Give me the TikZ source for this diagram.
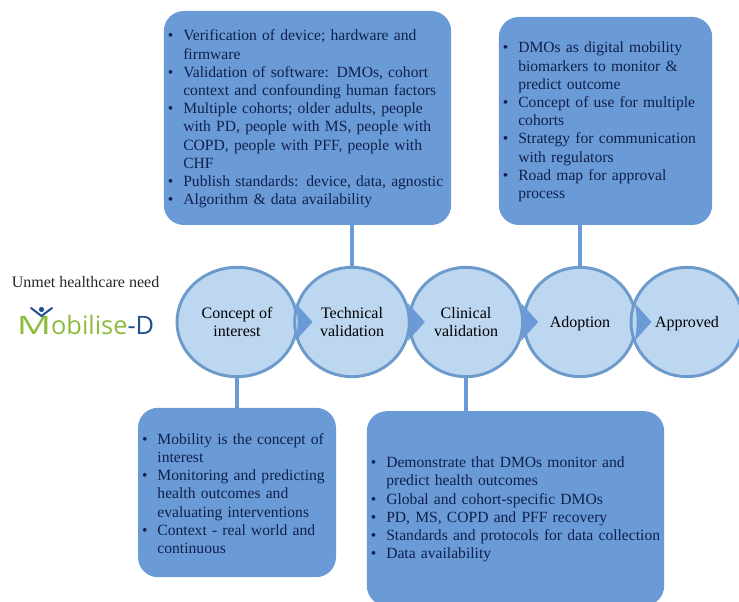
\documentclass[tikz,border=0pt]{standalone}
\usepackage{fontspec}
\setmainfont{Liberation Serif}
\newfontfamily\logofont{Open Sans}
\usepackage{graphicx}
\usepackage{xcolor}
\usetikzlibrary{shapes.geometric}
\usetikzlibrary{calc}
\definecolor{myBlue}{HTML}{6A9BD6}
\definecolor{myLight}{HTML}{BDD7F1}
\definecolor{myEdge}{HTML}{6C9BCB}
\definecolor{myInk}{HTML}{10204C}
\definecolor{myGreen}{HTML}{8CBB3E}
\definecolor{myNavy}{HTML}{1F4F8F}
\newenvironment{boxlist}{%
  \begin{list}{\textbullet}{%
    \setlength{\leftmargin}{14.6pt}%
    \setlength{\labelsep}{7.5pt}%
    \setlength{\labelwidth}{7pt}%
    \setlength{\itemsep}{0pt}%
    \setlength{\parsep}{0pt}%
    \setlength{\topsep}{0pt}%
    \setlength{\partopsep}{0pt}}%
    \raggedright}{\end{list}\vspace{4pt}}
\tikzset{
  stage/.style={ellipse, draw=myEdge, line width=2.2pt, fill=myLight, align=center,
    minimum height=82pt, inner sep=0pt, font=\fontsize{12}{13.5}\selectfont},
  infobox/.style={rectangle, rounded corners=15pt, fill=myBlue, inner sep=0pt, text=myInk,
    font=\fontsize{11.7}{13.65}\selectfont},
  link/.style={myBlue, line width=3pt},
}

\begin{document}
\begin{tikzpicture}[x=0.75pt,y=-0.75pt]
\useasboundingbox (0,0) rectangle (739,602);
\clip (0,0) rectangle (739,602);

%%%%%%%%%%%%%%%%%%%%%%%%%%%%%%%%%%%%%%%%%%%%%%%%%%%%%%%%%%%%%% Setup
\coordinate (C) at (237, 322);

%%%%%%%%%%%%%%%%%%%%%%%%%%%%%%%%%%%%%%%%%%%%%%%%%%%%%%%%%%%%%% Stages
\node[stage, minimum width=90pt] (concept) at ($(C)$) {Concept of\\interest};
\node[stage, minimum width=86pt] (technical) at ($(C)+(115,0)$) {Technical\\validation};
\node[stage, minimum width=85pt] (clinical) at ($(C)+(229,0)$) {Clinical\\validation};
\node[stage, minimum width=84pt, text depth=0pt] (adoption) at ($(C)+(343,0)$) {Adoption};
\node[stage, minimum width=84pt, text depth=0pt] (approved) at ($(C)+(450,0)$) {Approved};

\foreach \s in {concept,technical,clinical,adoption} {
  \fill[myBlue] ($(\s.east)+(-3,-19)$) -- ($(\s.east)+(14,0)$) -- ($(\s.east)+(-3,19)$)
    .. controls ($(\s.east)+(0,9)$) and ($(\s.east)+(0,-9)$) .. cycle;
}

%%%%%%%%%%%%%%%%%%%%%%%%%%%%%%%%%%%%%%%%%%%%%%%%%%%%%%%%%%%%%% Boxes
\node[infobox, minimum width=215.5pt, minimum height=160.5pt, text width=215.5pt] (technicalbox) at ($(C)+(70.5,-204)$) {%
\begin{boxlist}
\item Verification of device; hardware and\\firmware
\item Validation of software: DMOs, cohort\\context and confounding human factors
\item Multiple cohorts; older adults, people\\with PD, people with MS, people with\\COPD, people with PFF, people with\\CHF
\item Publish standards: device, data, agnostic
\item Algorithm \& data availability
\end{boxlist}};

\node[infobox, minimum width=160pt, minimum height=156pt, text width=160pt] (adoptionbox) at ($(C)+(368.5,-201)$) {%
\begin{boxlist}
\item DMOs as digital mobility\\biomarkers to monitor \&\\predict outcome
\item Concept of use for multiple\\cohorts
\item Strategy for communication\\with regulators
\item Road map for approval\\process
\end{boxlist}};

\node[infobox, minimum width=148.5pt, minimum height=127pt, text width=148.5pt] (conceptbox) at ($(C)+(0,170.5)$) {%
\begin{boxlist}
\item Mobility is the concept of\\interest
\item Monitoring and predicting\\health outcomes and\\evaluating interventions
\item Context - real world and\\continuous
\end{boxlist}};

\node[infobox, minimum width=223pt, minimum height=146pt, text width=223pt] (clinicalbox) at ($(C)+(278.5,186.5)$) {%
\begin{boxlist}
\item Demonstrate that DMOs monitor and\\predict health outcomes
\item Global and cohort-specific DMOs
\item PD, MS, COPD and PFF recovery
\item Standards and protocols for data collection
\item Data availability
\end{boxlist}};

%%%%%%%%%%%%%%%%%%%%%%%%%%%%%%%%%%%%%%%%%%%%%%%%%%%%%%%%%%%%%% Links
\draw[link] (technicalbox.south -| technical.north) -- (technical.north);
\draw[link] (adoptionbox.south -| adoption.north) -- (adoption.north);
\draw[link] (concept.south) -- (conceptbox.north);
\draw[link] (clinical.south) -- (clinicalbox.north -| clinical.south);

%%%%%%%%%%%%%%%%%%%%%%%%%%%%%%%%%%%%%%%%%%%%%%%%%%%%%%%%%%%%%% Left side
\node[font=\fontsize{12}{13.5}\selectfont, text=black!85] (need) at ($(C)+(-151.5,-40)$) {Unmet healthcare need};
\node[font=\logofont\fontsize{19}{20}\selectfont, inner sep=0pt, text=myGreen] (logo) at ($(C)+(-151.5,3)$) {\scalebox{1.5}[1]{M}obilise\textcolor{myNavy}{-D}};
\fill[myNavy] (41.5,309.5) circle (2.6);
\draw[myNavy, line width=1.5pt, line cap=round] (31,308) -- (41.5,316) -- (52,308);

\end{tikzpicture}
\end{document}
